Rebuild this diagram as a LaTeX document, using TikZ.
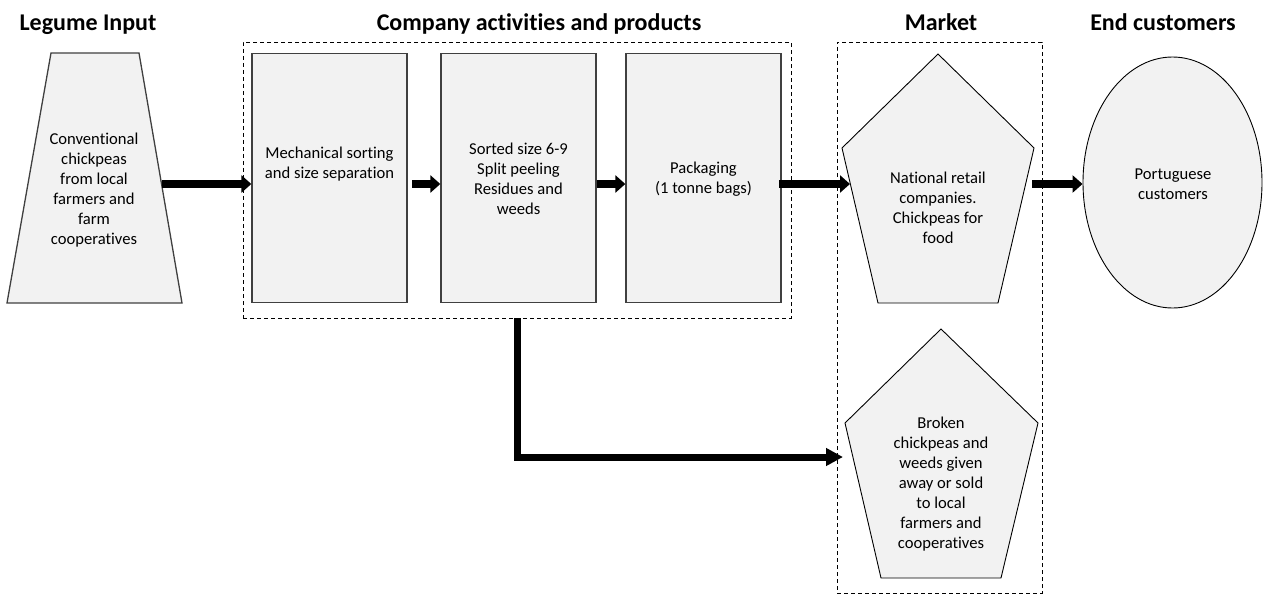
\documentclass[tikz,border=0pt]{standalone}
\usepackage{fontspec}
\setmainfont{Carlito}[Ligatures=NoCommon]
\usetikzlibrary{arrows.meta,shapes.geometric}
\definecolor{fillgray}{HTML}{F2F2F2}
\definecolor{edgegray}{HTML}{404040}
\begin{document}
\begin{tikzpicture}[x=1pt,y=-1pt,
  title/.style={font=\fontsize{24}{28}\selectfont\bfseries, anchor=base, inner sep=0pt},
  txt/.style={font=\fontsize{16.6}{20}\selectfont, align=center, inner sep=0pt},
  procbox/.style={draw=edgegray, line width=1.3pt, fill=fillgray, minimum width=155pt, minimum height=249pt, inner sep=0pt},
  shapeline/.style={draw=black, line width=0.9pt, fill=fillgray},
  trapline/.style={draw=edgegray, line width=1.3pt, fill=fillgray},
  group/.style={draw=black, line width=0.9pt, dash pattern=on 4pt off 3pt, inner sep=0pt},
  flow/.style={line width=8pt, -{Triangle[length=10pt,width=17pt]}},
  waste/.style={line width=7pt, -{Triangle[length=17pt,width=17pt]}}]
\useasboundingbox (0,0) rectangle (1263,594);

% titles
\node[title] (t1) at (88,31) {Legume Input};
\node[title] (t2) at (539,31) {Company activities and products};
\node[title] (t3) at (941,31) {Market};
\node[title] (t4) at (1163,31) {End customers};

% group frames
\node[group, minimum width=548pt, minimum height=276pt] (company) at (517,180) {};
\node[group, minimum width=205pt, minimum height=551pt] (market) at (939.5,317.5) {};

% legume input trapezoid
\draw[trapline] (51,53) -- (139,53) -- (182,303) -- (7,303) -- cycle;
\node[txt] (trap) at (94,190) {Conventional\\chickpeas\\from local\\farmers and\\farm\\cooperatives};

% process boxes
\node[procbox] (box1) at (329.5,178) {};
\node[txt] (l1) at (329.5,164) {Mechanical sorting\\and size separation};
\node[procbox] (box2) at (518.5,178) {};
\node[txt] (l2) at (518.5,179) {Sorted size 6-9\\Split peeling\\Residues and\\weeds};
\node[procbox] (box3) at (703.5,178) {};
\node[txt] (l3) at (703.5,179) {Packaging\\(1 tonne bags)};

% market pentagons
\draw[shapeline] (938,54) -- (1034,148) -- (998,303) -- (878,303) -- (842,148) -- cycle;
\node[txt] (p1) at (938,208) {National retail\\companies.\\Chickpeas for\\food};
\draw[shapeline] (941,329) -- (1038,423) -- (1001,578) -- (881,578) -- (845,423) -- cycle;
\node[txt] (p2) at (941,484) {Broken\\chickpeas and\\weeds given\\away or sold\\to local\\farmers and\\cooperatives};

% end customers
\node[draw=black, line width=0.9pt, fill=fillgray, ellipse, minimum width=179pt, minimum height=251pt, inner sep=0pt] (cust) at (1172.5,182.5) {};
\node[txt] (lc) at (1173,184) {Portuguese\\customers};

% connectors
\coordinate (a1) at (162,184);
\coordinate (a2) at (412,184);
\coordinate (a4) at (779,184);
\coordinate (p1in) at (850,184);
\coordinate (a5) at (1032,184);
\coordinate (p2in) at (843,457);
\draw[flow] (a1) -- (box1.west |- a1);
\draw[flow] (a2) -- (box2.west |- a2);
\draw[flow] (box2.east |- a2) -- (box3.west |- a2);
\draw[flow] (a4) -- (p1in);
\draw[flow] (a5) -- (cust.west |- a5);
\draw[waste] (company.south) |- (p2in);
\end{tikzpicture}
\end{document}
